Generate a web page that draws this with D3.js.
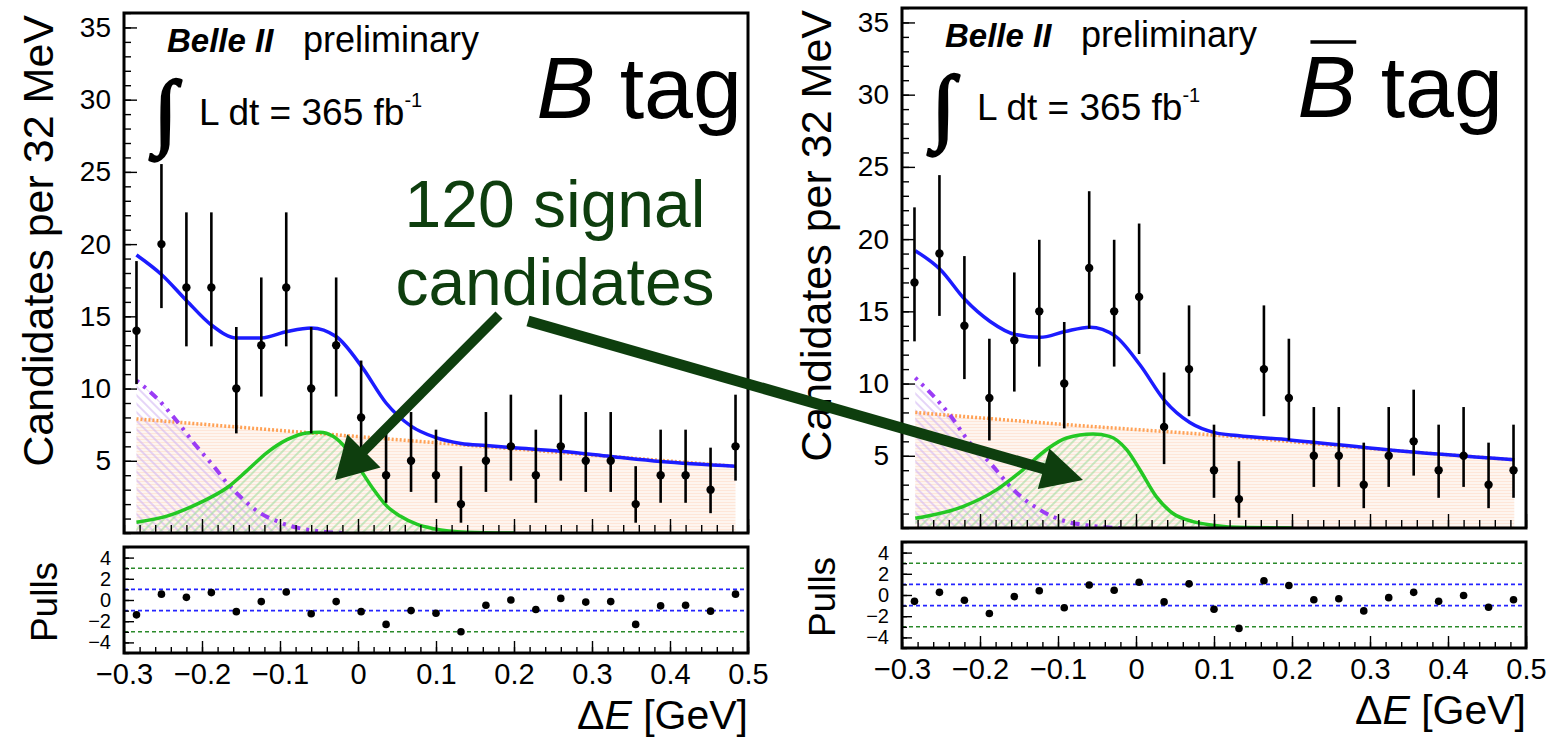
<!DOCTYPE html>
<html>
<head>
<meta charset="utf-8">
<script src="https://cdn.jsdelivr.net/npm/d3@7"></script>
<style>
  body { margin: 0; background: #fff; }
  svg { display: block; }
</style>
</head>
<body>
<div id="chart"></div>
<script>
var FONT = '"Liberation Sans", Arial, Helvetica, sans-serif';

// bin centres of Delta E [GeV], 32 MeV bins
var deltaE = [-0.284, -0.252, -0.220, -0.188, -0.156, -0.124, -0.092, -0.060, -0.028, 0.004,
    0.036, 0.068, 0.100, 0.132, 0.164, 0.196, 0.228, 0.260, 0.292, 0.324,
    0.356, 0.388, 0.420, 0.452, 0.484];

// B tag
var countsB = [14, 20, 17, 17, 10, 13, 17, 10, 13, 8, 4, 5, 4, 2, 5, 6, 4, 6, 5, 5, 2, 4, 4, 3, 6];
var pullsB = [-1.4, 0.55, 0.25, 0.7, -1.1, -0.15, 0.76, -1.3, -0.15, -1.1, -2.3, -1.0, -1.25,
    -3.0, -0.5, 0.0, -0.9, 0.15, -0.2, -0.15, -2.3, -0.55, -0.5, -1.05, 0.55];
var totalB = [[-0.284, 19.25], [-0.252, 17.9], [-0.220, 16.1], [-0.188, 14.4], [-0.156, 13.5],
    [-0.124, 13.5], [-0.091, 13.95], [-0.060, 14.2], [-0.028, 13.6], [0.005, 11.5], [0.036, 9.0],
    [0.068, 7.4], [0.100, 6.6], [0.132, 6.2], [0.164, 6.05], [0.200, 5.9], [0.260, 5.66],
    [0.324, 5.3], [0.388, 4.95], [0.484, 4.62]];
var signalB = [[-0.284, 0.75], [-0.245, 1.17], [-0.203, 2.09], [-0.168, 3.13], [-0.143, 4.28],
    [-0.117, 5.55], [-0.091, 6.46], [-0.066, 6.93], [-0.049, 6.97], [-0.032, 6.69], [-0.014, 5.77],
    [0.003, 4.39], [0.020, 3.01], [0.037, 1.86], [0.054, 1.17], [0.076, 0.59], [0.097, 0.30],
    [0.139, 0.06], [0.200, 0]];
var peakingB = [[-0.284, 10.56], [-0.256, 9.23], [-0.232, 7.73], [-0.207, 6.0], [-0.185, 4.62],
    [-0.168, 3.47], [-0.147, 2.32], [-0.126, 1.40], [-0.104, 0.82], [-0.083, 0.43], [-0.061, 0.2],
    [-0.040, 0.06], [-0.020, 0]];
var combB = [[-0.284, 7.9], [-0.100, 7.1], [0.100, 6.25], [0.300, 5.4], [0.484, 4.62]];

// Bbar tag
var countsBbar = [17, 19, 14, 9, 13, 15, 10, 18, 15, 16, 7, 11, 4, 2, 11, 9, 5, 5, 3, 5, 6, 4, 5, 3, 4];
var pullsBbar = [-0.6, 0.25, -0.5, -1.75, -0.15, 0.4, -1.2, 0.95, 0.45, 1.2, -0.65, 1.05, -1.35,
    -3.15, 1.35, 0.9, -0.45, -0.35, -1.5, -0.25, 0.25, -0.6, -0.05, -1.15, -0.45];
var totalBbar = [[-0.283, 19.2], [-0.251, 17.9], [-0.219, 15.8], [-0.187, 14.3], [-0.155, 13.4],
    [-0.123, 13.2], [-0.091, 13.6], [-0.059, 13.9], [-0.027, 13.3], [0.005, 11.3], [0.037, 8.8],
    [0.069, 7.3], [0.101, 6.6], [0.130, 6.4], [0.197, 6.1], [0.325, 5.4], [0.485, 4.72]];
var signalBbar = [[-0.283, 0.67], [-0.222, 1.48], [-0.179, 2.64], [-0.145, 4.03], [-0.115, 5.42],
    [-0.089, 6.23], [-0.055, 6.5], [-0.034, 6.34], [-0.012, 5.42], [0.005, 4.03], [0.026, 2.17],
    [0.047, 1.02], [0.073, 0.44], [0.098, 0.2], [0.140, 0.03], [0.200, 0]];
var peakingBbar = [[-0.283, 10.4], [-0.239, 7.85], [-0.213, 5.9], [-0.187, 4.5], [-0.157, 2.64],
    [-0.123, 1.25], [-0.089, 0.44], [-0.064, 0.2], [-0.040, 0.05], [-0.020, 0]];
var combBbar = [[-0.283, 8.0], [-0.100, 7.2], [0.120, 6.35], [0.300, 5.5], [0.485, 4.72]];

var xTicks = [-0.3, -0.2, -0.1, 0, 0.1, 0.2, 0.3, 0.4, 0.5];
var yTicks = [5, 10, 15, 20, 25, 30, 35];
var pullTicks = [-4, -2, 0, 2, 4];

var W = 624, H = 520;
var GREEN_DARK = '#0e3e0e';

var svg = d3.select('#chart')
    .append('svg')
    .attr('width', 1564)
    .attr('height', 739);
var defs = svg.append('defs');

function hatch(id, angle, color, gap, bg) {
    var p = defs.append('pattern')
        .attr('id', id)
        .attr('patternUnits', 'userSpaceOnUse')
        .attr('width', gap)
        .attr('height', gap)
        .attr('patternTransform', 'rotate(' + angle + ')');
    if (bg) p.append('rect').attr('width', gap).attr('height', gap).attr('fill', bg);
    p.append('line')
        .attr('x1', gap / 2).attr('x2', gap / 2)
        .attr('y1', 0).attr('y2', gap)
        .attr('stroke', color)
        .attr('stroke-width', 1.1);
}
hatch('fillComb', 90, '#fee6d8', 3, '#fff6f1');
hatch('fillPeak', -45, '#cfb2f3', 6, null);
hatch('fillSig', 45, '#9bdc9b', 6, null);

// Garwood-style 68% Poisson interval (Wilson-Hilferty form)
function poisLo(n) {
    return n === 0 ? 0 : n * Math.pow(1 - 1 / (9 * n) - 1 / (3 * Math.sqrt(n)), 3);
}
function poisHi(n) {
    var m = n + 1;
    return m * Math.pow(1 - 1 / (9 * m) + 1 / (3 * Math.sqrt(m)), 3);
}

var panels = [
    { x0: 124, y0: 13, counts: countsB, pulls: pullsB, total: totalB, signal: signalB,
      peaking: peakingB, comb: combB, bar: false, tagEnd: 742, tagBase: 118 },
    { x0: 902, y0: 8, counts: countsBbar, pulls: pullsBbar, total: totalBbar, signal: signalBbar,
      peaking: peakingBbar, comb: combBbar, bar: true, tagEnd: 1503, tagBase: 117 }
];

panels.forEach(function (p, i) {
    var x = d3.scaleLinear().domain([-0.3, 0.5]).range([p.x0, p.x0 + W]);
    var y = d3.scaleLinear().domain([0, 36]).range([p.y0 + H, p.y0]);
    var pTop = p.y0 + 534, pBot = p.y0 + 640;
    var yp = d3.scaleLinear().domain([-5, 5]).range([pBot, pTop]);

    var g = svg.append('g');

    defs.append('clipPath').attr('id', 'clip' + i)
        .append('rect')
        .attr('x', p.x0).attr('y', p.y0).attr('width', W).attr('height', H);

    var area = d3.area().curve(d3.curveMonotoneX)
        .x(d => x(d[0])).y0(y(0)).y1(d => y(d[1]));
    var line = d3.line().curve(d3.curveMonotoneX)
        .x(d => x(d[0])).y(d => y(d[1]));

    var plot = g.append('g').attr('clip-path', 'url(#clip' + i + ')');

    // filled components
    plot.append('path').attr('d', area(p.comb)).attr('fill', 'url(#fillComb)');
    plot.append('path').attr('d', area(p.peaking)).attr('fill', 'url(#fillPeak)');
    plot.append('path').attr('d', area(p.signal)).attr('fill', 'url(#fillSig)');

    // component curves
    plot.append('path').attr('d', line(p.comb))
        .attr('fill', 'none').attr('stroke', '#ffa155').attr('stroke-width', 3.5)
        .attr('stroke-dasharray', '2,2');
    plot.append('path').attr('d', line(p.peaking))
        .attr('fill', 'none').attr('stroke', '#9b3cf5').attr('stroke-width', 4)
        .attr('stroke-dasharray', '3,6,3,6,9,6');
    plot.append('path').attr('d', line(p.signal))
        .attr('fill', 'none').attr('stroke', '#24c824').attr('stroke-width', 3.5);
    plot.append('path').attr('d', line(p.total))
        .attr('fill', 'none').attr('stroke', '#1c1cff').attr('stroke-width', 3.5);

    // data with error bars
    var pts = deltaE.map((e, k) => ({ e: e, n: p.counts[k], pull: p.pulls[k] }));
    plot.selectAll('line.err')
        .data(pts)
        .enter()
        .append('line')
        .attr('class', 'err')
        .attr('x1', d => x(d.e)).attr('x2', d => x(d.e))
        .attr('y1', d => y(poisLo(d.n))).attr('y2', d => y(poisHi(d.n)))
        .attr('stroke', '#000').attr('stroke-width', 2.6);
    plot.selectAll('circle.pt')
        .data(pts)
        .enter()
        .append('circle')
        .attr('class', 'pt')
        .attr('cx', d => x(d.e)).attr('cy', d => y(d.n))
        .attr('r', 4.2);

    // main frame ticks
    function clean(sel) { sel.select('.domain').remove(); sel.selectAll('line').attr('stroke-width', 1.4); }
    g.append('g').attr('transform', 'translate(' + p.x0 + ',0)')
        .call(d3.axisRight(y).tickValues(d3.range(0, 37)).tickSize(7).tickFormat(''))
        .call(clean);
    g.append('g').attr('transform', 'translate(' + p.x0 + ',0)')
        .call(d3.axisRight(y).tickValues(yTicks).tickSize(13).tickFormat(''))
        .call(clean);
    g.append('g').attr('transform', 'translate(' + p.x0 + ',0)')
        .call(d3.axisLeft(y).tickValues(yTicks).tickSize(0).tickPadding(13))
        .call(clean)
        .attr('font-family', FONT).attr('font-size', 28);
    var minorX = d3.range(0, 41).map(k => -0.3 + k * 0.02);
    g.append('g').attr('transform', 'translate(0,' + (p.y0 + H) + ')')
        .call(d3.axisTop(x).tickValues(minorX).tickSize(8).tickFormat(''))
        .call(clean);
    g.append('g').attr('transform', 'translate(0,' + (p.y0 + H) + ')')
        .call(d3.axisTop(x).tickValues(xTicks).tickSize(14).tickFormat(''))
        .call(clean);
    g.append('rect')
        .attr('x', p.x0).attr('y', p.y0).attr('width', W).attr('height', H)
        .attr('fill', 'none').attr('stroke', '#000').attr('stroke-width', 3);

    // pulls panel
    [[3, '#2a8a2a'], [-3, '#2a8a2a'], [1, '#2424ff'], [-1, '#2424ff']].forEach(function (l) {
        g.append('line')
            .attr('x1', p.x0).attr('x2', p.x0 + W)
            .attr('y1', yp(l[0])).attr('y2', yp(l[0]))
            .attr('stroke', l[1]).attr('stroke-width', 1.6)
            .attr('stroke-dasharray', '4,3');
    });
    g.selectAll('circle.pull')
        .data(pts)
        .enter()
        .append('circle')
        .attr('class', 'pull')
        .attr('cx', d => x(d.e)).attr('cy', d => yp(d.pull))
        .attr('r', 3.8);
    g.append('g').attr('transform', 'translate(' + p.x0 + ',0)')
        .call(d3.axisRight(yp).tickValues(d3.range(-5, 6)).tickSize(5).tickFormat(''))
        .call(clean);
    g.append('g').attr('transform', 'translate(' + p.x0 + ',0)')
        .call(d3.axisRight(yp).tickValues(pullTicks).tickSize(10).tickFormat(''))
        .call(clean);
    g.append('g').attr('transform', 'translate(' + p.x0 + ',0)')
        .call(d3.axisLeft(yp).tickValues(pullTicks).tickSize(0).tickPadding(13))
        .call(clean)
        .attr('font-family', FONT).attr('font-size', 20);
    g.append('g').attr('transform', 'translate(0,' + pBot + ')')
        .call(d3.axisTop(x).tickValues(minorX).tickSize(6).tickFormat(''))
        .call(clean);
    g.append('g').attr('transform', 'translate(0,' + pBot + ')')
        .call(d3.axisTop(x).tickValues(xTicks).tickSize(12).tickFormat(''))
        .call(clean);
    g.append('g').attr('transform', 'translate(0,' + pBot + ')')
        .call(d3.axisBottom(x).tickValues(xTicks).tickSize(0).tickPadding(10)
            .tickFormat(d => d === 0 ? '0' : d3.format('.1f')(d)))
        .call(clean)
        .attr('font-family', FONT).attr('font-size', 29);
    g.append('rect')
        .attr('x', p.x0).attr('y', pTop).attr('width', W).attr('height', pBot - pTop)
        .attr('fill', 'none').attr('stroke', '#000').attr('stroke-width', 3);

    // axis titles
    g.append('text')
        .attr('transform', 'translate(' + (p.x0 - 71) + ',' + (p.y0 + 2) + ') rotate(-90)')
        .attr('text-anchor', 'end')
        .attr('font-family', FONT).attr('font-size', 43)
        .text('Candidates per 32 MeV');
    g.append('text')
        .attr('transform', 'translate(' + (p.x0 - 67) + ',' + (p.y0 + 589) + ') rotate(-90)')
        .attr('text-anchor', 'middle')
        .attr('font-family', FONT).attr('font-size', 37)
        .text('Pulls');
    var xt = g.append('text')
        .attr('x', p.x0 + W).attr('y', p.y0 + 716)
        .attr('text-anchor', 'end')
        .attr('font-family', FONT).attr('font-size', 41);
    xt.append('tspan').text('Δ');
    xt.append('tspan').attr('font-style', 'italic').text('E');
    xt.append('tspan').text(' [GeV]');

    // labels in the frame
    g.append('text')
        .attr('x', p.x0 + 43).attr('y', p.y0 + 39)
        .attr('font-family', FONT).attr('font-size', 33)
        .attr('font-weight', 'bold').attr('font-style', 'italic')
        .text('Belle II');
    g.append('text')
        .attr('x', p.x0 + 179).attr('y', p.y0 + 39)
        .attr('font-family', FONT).attr('font-size', 36)
        .text('preliminary');
    g.append('text')
        .attr('x', p.x0 + 30).attr('y', p.y0 + 126)
        .attr('font-family', '"Liberation Serif", "DejaVu Serif", serif')
        .attr('font-size', 84).attr('font-style', 'italic')
        .attr('stroke', '#000').attr('stroke-width', 2.6)
        .text('∫');
    var lum = g.append('text')
        .attr('x', p.x0 + 75).attr('y', p.y0 + 112)
        .attr('font-family', FONT).attr('font-size', 37);
    lum.append('tspan').text('L dt = 365 fb');
    lum.append('tspan').attr('font-size', 20).attr('dy', -18).text('-1');

    var tag = g.append('text')
        .attr('x', p.tagEnd).attr('y', p.tagBase)
        .attr('text-anchor', 'end')
        .attr('font-family', FONT).attr('font-size', 88);
    tag.append('tspan').attr('font-style', 'italic').text('B');
    tag.append('tspan').text(' tag');
    if (p.bar) {
        var s = tag.node().getStartPositionOfChar(0).x;
        var e = tag.node().getEndPositionOfChar(0).x;
        g.append('line')
            .attr('x1', s + 0.22 * (e - s)).attr('x2', e)
            .attr('y1', p.tagBase - 75).attr('y2', p.tagBase - 75)
            .attr('stroke', '#000').attr('stroke-width', 3.5);
    }
});

// annotation: signal yield and arrows
var note = svg.append('text')
    .attr('text-anchor', 'middle')
    .attr('font-family', FONT).attr('font-size', 66)
    .attr('fill', GREEN_DARK);
note.append('tspan').attr('x', 555).attr('y', 227).text('120 signal');
note.append('tspan').attr('x', 555).attr('y', 305).text('candidates');

var arrows = [
    { from: [499, 315], to: [335, 480], shaft: 10, headLen: 41, headHalf: 23.5 },
    { from: [528, 321], to: [1083, 480], shaft: 11, headLen: 41, headHalf: 21 }
];
arrows.forEach(function (a) {
    var dx = a.to[0] - a.from[0], dy = a.to[1] - a.from[1];
    var len = Math.sqrt(dx * dx + dy * dy);
    var ux = dx / len, uy = dy / len;
    var bx = a.to[0] - ux * a.headLen, by = a.to[1] - uy * a.headLen;
    svg.append('line')
        .attr('x1', a.from[0]).attr('y1', a.from[1])
        .attr('x2', bx + ux * 2).attr('y2', by + uy * 2)
        .attr('stroke', GREEN_DARK).attr('stroke-width', a.shaft);
    svg.append('polygon')
        .attr('points', [
            [a.to[0], a.to[1]],
            [bx - uy * a.headHalf, by + ux * a.headHalf],
            [bx + uy * a.headHalf, by - ux * a.headHalf]
        ].map(q => q.join(',')).join(' '))
        .attr('fill', GREEN_DARK);
});
</script>
</body>
</html>
